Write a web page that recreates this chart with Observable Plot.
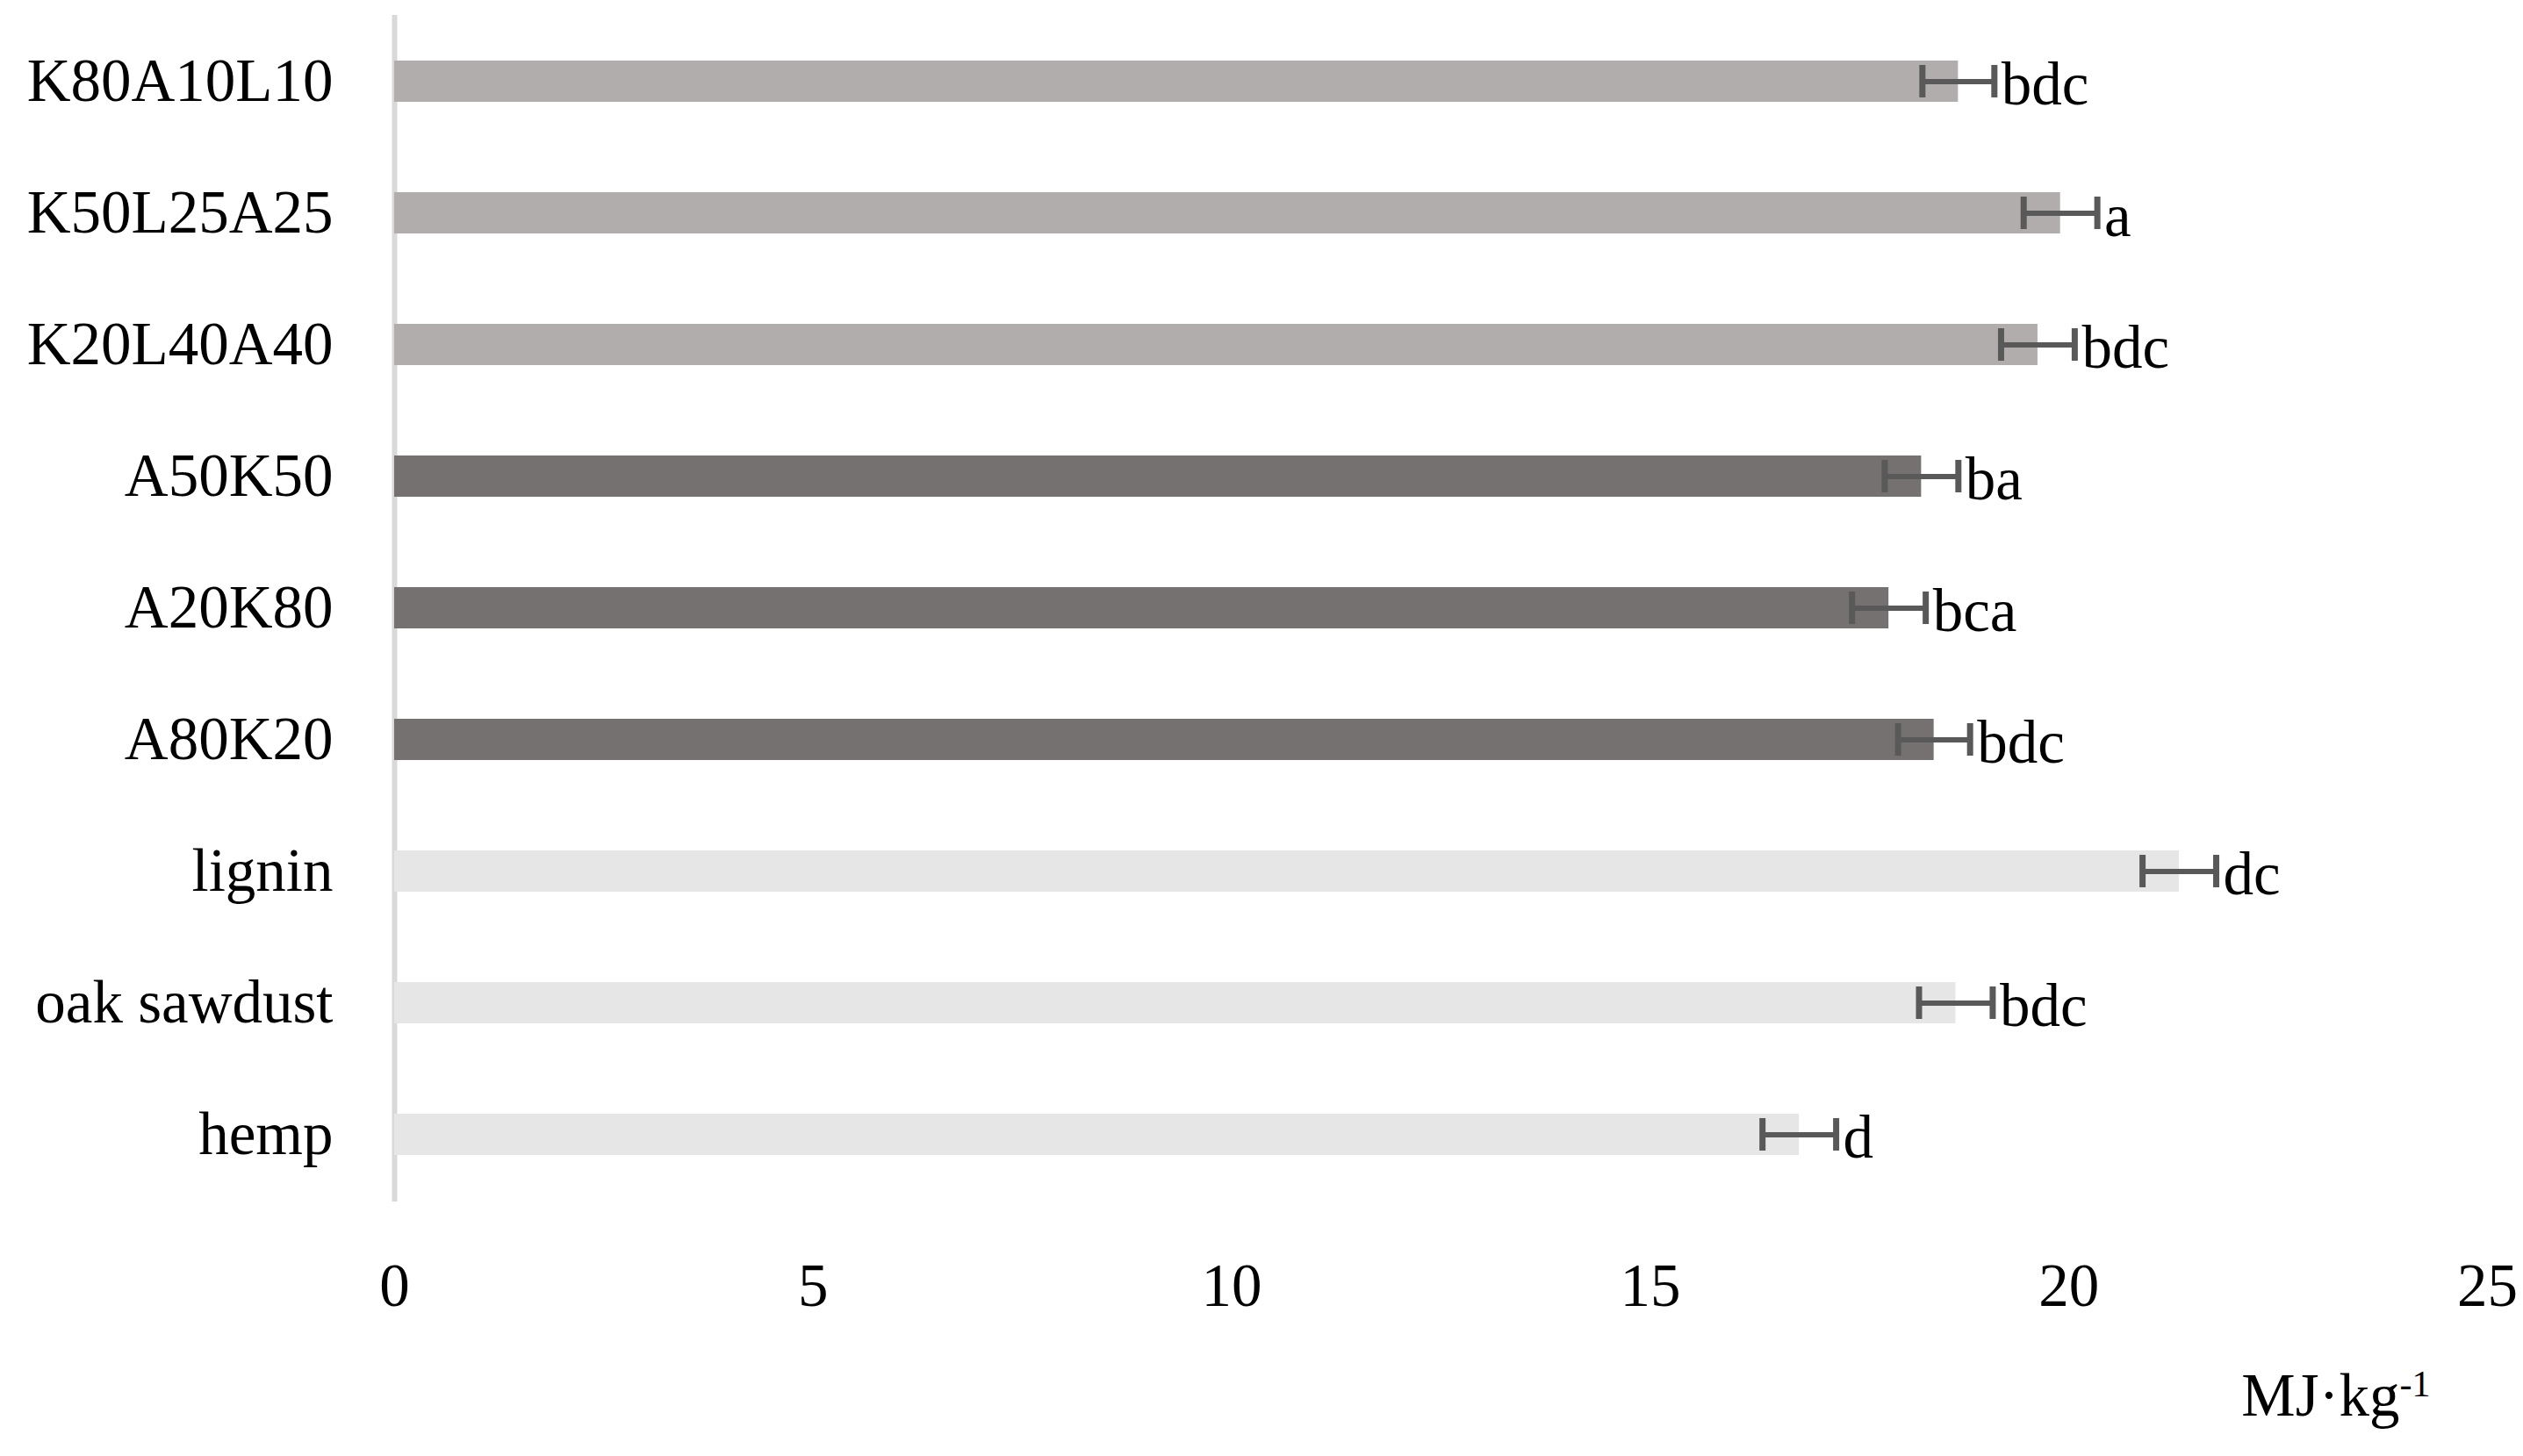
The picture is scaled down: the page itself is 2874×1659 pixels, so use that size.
<!DOCTYPE html>
<html><head><meta charset="utf-8">
<script src="https://cdn.jsdelivr.net/npm/d3@7"></script>
<script src="https://cdn.jsdelivr.net/npm/@observablehq/plot@0.6"></script>
<style>html,body{margin:0;padding:0;background:#fff;} #chart svg{display:block;}</style>
</head><body><div id="chart"></div>
<script>
const categories = ["K80A10L10","K50L25A25","K20L40A40","A50K50","A20K80","A80K20","lignin","oak sawdust","hemp"];
const values = [18.68, 19.90, 19.63, 18.24, 17.85, 18.39, 21.32, 18.65, 16.78];
const errors = [0.43, 0.44, 0.44, 0.44, 0.44, 0.43, 0.44, 0.44, 0.44];
const letters = ["bdc","a","bdc","ba","bca","bdc","dc","bdc","d"];
const groups = ["ternary","ternary","ternary","binary","binary","binary","raw","raw","raw"];
const groupNames = ["ternary","binary","raw"];
const groupColors = ["#B0ADAC","#767171","#E7E6E6"];
const xTicks = [0, 5, 10, 15, 20, 25];
const unitLabel = "MJ·kg";
const unitExponent = "-1";

const data = categories.map((c, i) => ({category: c, value: values[i], err: errors[i], letter: letters[i], group: groups[i]}));

const plot = Plot.plot({
  width: 2874, height: 1659,
  marginTop: 17, marginBottom: 290, marginLeft: 449, marginRight: 41,
  style: {fontFamily: "'Liberation Serif', 'Times New Roman', serif", fontSize: "69px", color: "#000", background: "#fff"},
  x: {domain: [0, 25]},
  y: {domain: categories, paddingInner: 0.684, paddingOuter: 0.342},
  color: {domain: groupNames, range: groupColors},
  marks: [
    Plot.ruleX([0], {stroke: "#D9D9D9", strokeWidth: 6}),
    Plot.barX(data, {x: "value", y: "category", fill: "group"}),
    Plot.ruleY(data, {y: "category", x1: d => d.value - d.err, x2: d => d.value + d.err, stroke: "#595959", strokeWidth: 6}),
    Plot.tickX(data, {x: d => d.value - d.err, y: "category", stroke: "#595959", strokeWidth: 7, insetTop: 5, insetBottom: 5}),
    Plot.tickX(data, {x: d => d.value + d.err, y: "category", stroke: "#595959", strokeWidth: 7, insetTop: 5, insetBottom: 5}),
    Plot.text(data, {x: d => d.value + d.err, y: "category", text: "letter", textAnchor: "start", dx: 8, dy: 4, fill: "#000"}),
    Plot.axisX({ticks: xTicks, tickSize: 0, tickPadding: 69, tickFormat: d => String(d), label: null, fill: "#000"}),
    Plot.axisY({tickSize: 0, tickPadding: 70, label: null, fill: "#000"}),
    Plot.text([unitLabel], {frameAnchor: "bottom-right", textAnchor: "end", dx: -65, dy: 243, fill: "#000"})
  ]
});

d3.select(plot).selectAll("text").filter(function() { return this.textContent === unitLabel; })
  .append("tspan").attr("dy", -22).attr("font-size", "42px").text(unitExponent);

document.getElementById("chart").appendChild(plot);
</script>
</body></html>
